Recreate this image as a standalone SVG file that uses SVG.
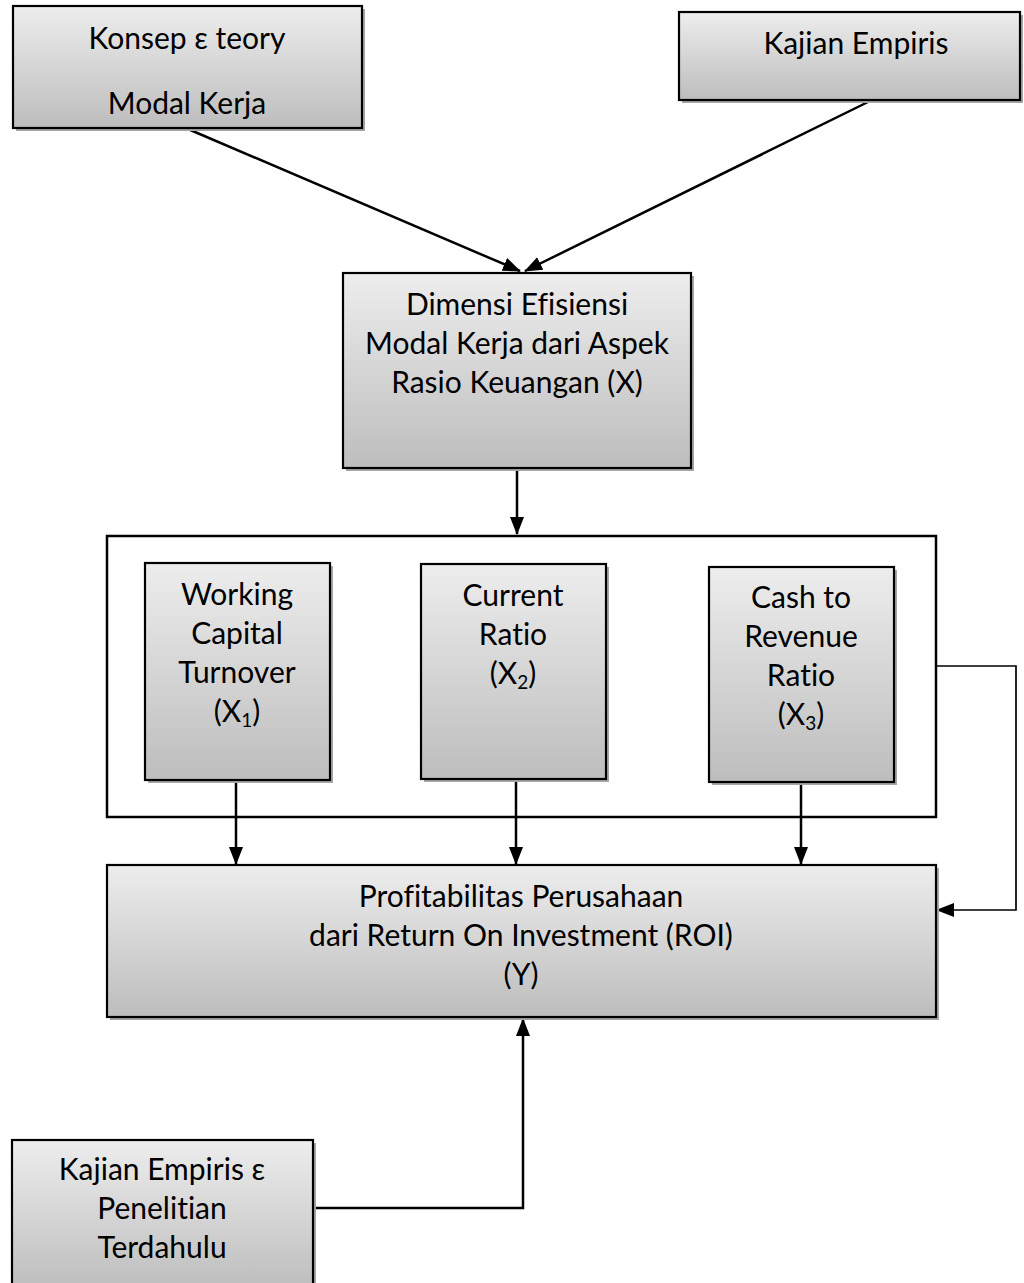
<svg xmlns="http://www.w3.org/2000/svg" width="1024" height="1283" viewBox="0 0 1024 1283">
<style>
.box{fill:url(#g);stroke:#000;stroke-width:2.2}
.sh{fill:#a6a6a6}
.t{font-family:Lato,"Open Sans",sans-serif;font-size:30px;fill:#000;text-anchor:middle;font-variant-ligatures:none}
.sub{font-size:19px}
.c{fill:none;stroke:#000;stroke-width:2.5}
.c2{fill:none;stroke:#000;stroke-width:1.7}
</style>
<defs>
<linearGradient id="g" x1="0" y1="0" x2="0" y2="1">
<stop offset="0" stop-color="#ededed"/>
<stop offset="1" stop-color="#bdbdbd"/>
</linearGradient>
<marker id="a" markerUnits="userSpaceOnUse" markerWidth="18" markerHeight="18" viewBox="0 0 18 18" refX="17" refY="9" orient="auto">
<path d="M0,2 L18,9 L0,16 Z" fill="#000"/>
</marker>
</defs>
<rect width="1024" height="1283" fill="#fff"/>

<g id="connectors">
<line class="c" x1="188" y1="129" x2="520" y2="271" marker-end="url(#a)"/>
<line class="c" x1="870" y1="101" x2="525" y2="271" marker-end="url(#a)"/>
<line class="c" x1="517" y1="471" x2="517" y2="534" marker-end="url(#a)"/>
<line class="c" x1="236" y1="783" x2="236" y2="864" marker-end="url(#a)"/>
<line class="c" x1="516" y1="782" x2="516" y2="864" marker-end="url(#a)"/>
<line class="c" x1="801" y1="785" x2="801" y2="864" marker-end="url(#a)"/>
<polyline class="c2" points="937,666 1016,666 1016,910 937,910" marker-end="url(#a)"/>
<polyline class="c" points="313,1208 523,1208 523,1019" marker-end="url(#a)"/>
</g>

<g id="konsep">
<rect class="sh" x="16" y="9" width="349" height="122"/>
<rect class="box" x="13" y="6" width="349" height="122"/>
<text class="t" x="187" y="49">Konsep ε teory</text>
<text class="t" x="187" y="114">Modal Kerja</text>
</g>

<g id="kajian-empiris">
<rect class="sh" x="682" y="15" width="341" height="88"/>
<rect class="box" x="679" y="12" width="341" height="88"/>
<text class="t" x="856" y="54">Kajian Empiris</text>
</g>

<g id="dimensi">
<rect class="sh" x="346" y="276" width="348" height="195"/>
<rect class="box" x="343" y="273" width="348" height="195"/>
<text class="t" x="517" y="315">Dimensi Efisiensi</text>
<text class="t" x="517" y="354">Modal Kerja dari Aspek</text>
<text class="t" x="517" y="393">Rasio Keuangan (X)</text>
</g>

<g id="container">
<rect x="107" y="536" width="829" height="281" fill="none" stroke="#000" stroke-width="2.5"/>
</g>

<g id="x1">
<rect class="sh" x="148" y="566" width="185" height="217"/>
<rect class="box" x="145" y="563" width="185" height="217"/>
<text class="t" x="237" y="605">Working</text>
<text class="t" x="237" y="644">Capital</text>
<text class="t" x="237" y="683">Turnover</text>
<text class="t" x="237" y="722">(X<tspan class="sub" dy="5">1</tspan><tspan dy="-5">)</tspan></text>
</g>

<g id="x2">
<rect class="sh" x="424" y="567" width="185" height="215"/>
<rect class="box" x="421" y="564" width="185" height="215"/>
<text class="t" x="513" y="606">Current</text>
<text class="t" x="513" y="645">Ratio</text>
<text class="t" x="513" y="684">(X<tspan class="sub" dy="5">2</tspan><tspan dy="-5">)</tspan></text>
</g>

<g id="x3">
<rect class="sh" x="712" y="570" width="185" height="215"/>
<rect class="box" x="709" y="567" width="185" height="215"/>
<text class="t" x="801" y="608">Cash to</text>
<text class="t" x="801" y="647">Revenue</text>
<text class="t" x="801" y="686">Ratio</text>
<text class="t" x="801" y="725">(X<tspan class="sub" dy="5">3</tspan><tspan dy="-5">)</tspan></text>
</g>

<g id="y">
<rect class="sh" x="110" y="868" width="829" height="152"/>
<rect class="box" x="107" y="865" width="829" height="152"/>
<text class="t" x="521" y="907">Profitabilitas Perusahaan</text>
<text class="t" x="521" y="946">dari Return On Investment (ROI)</text>
<text class="t" x="521" y="985">(Y)</text>
</g>

<g id="penelitian">
<rect class="sh" x="15" y="1143" width="301" height="150"/>
<rect class="box" x="12" y="1140" width="301" height="150"/>
<text class="t" x="162" y="1180">Kajian Empiris ε</text>
<text class="t" x="162" y="1219">Penelitian</text>
<text class="t" x="162" y="1258">Terdahulu</text>
</g>
</svg>
